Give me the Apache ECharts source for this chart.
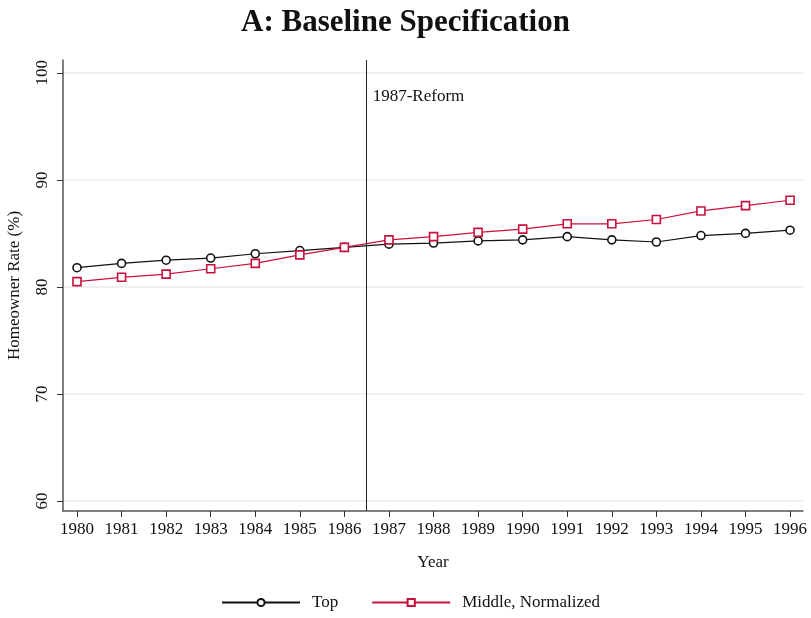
<!DOCTYPE html>
<html>
<head>
<meta charset="utf-8">
<script src="https://cdn.jsdelivr.net/npm/echarts@6/dist/echarts.min.js"></script>
<style>html,body{margin:0;padding:0;background:#fff}#c{width:811px;height:618px}</style>
</head>
<body>
<div id="c"></div>
<script>
const years = [1980,1981,1982,1983,1984,1985,1986,1987,1988,1989,1990,1991,1992,1993,1994,1995,1996];
const topRate = [81.8,82.2,82.5,82.7,83.1,83.4,83.7,84.0,84.1,84.3,84.4,84.7,84.4,84.2,84.8,85.0,85.3];
const middleNormalized = [80.5,80.9,81.2,81.7,82.2,83.0,83.7,84.4,84.7,85.1,85.4,85.9,85.9,86.3,87.1,87.6,88.1];
const yTicks = [60,70,80,90,100];
const reformYear = 1986.5;
const reformLabel = '1987-Reform';

const FONT = 'Liberation Serif';
const chart = echarts.init(document.getElementById('c'), null, {renderer:'canvas'});
chart.setOption({
  animation:false,
  backgroundColor:'#fff',
  textStyle:{fontFamily:FONT},
  title:{text:'A: Baseline Specification',left:'center',top:2,
    textStyle:{fontFamily:FONT,fontSize:31,fontWeight:'bold',color:'#111'}},
  grid:{left:63,right:8,top:60,bottom:107,outerBoundsMode:'none',containLabel:false},
  legend:{bottom:2,left:216,itemWidth:78,itemHeight:9,itemGap:33,
    textStyle:{fontFamily:FONT,fontSize:17,color:'#111',padding:[0,0,0,7]},
    data:['Top','Middle, Normalized']},
  xAxis:{type:'value',min:1979.686,max:1996.29,
    name:'Year',nameLocation:'middle',nameGap:43,
    nameTextStyle:{fontFamily:FONT,fontSize:17,color:'#111'},
    axisLine:{show:true,lineStyle:{color:'#555',width:1.5}},
    axisTick:{show:true,length:6,customValues:years,lineStyle:{color:'#333'}},
    axisLabel:{customValues:years,margin:10,fontFamily:FONT,fontSize:17,color:'#111',formatter:v=>String(v)},
    splitLine:{show:false}},
  yAxis:{type:'value',min:59.07,max:101.2,
    name:'Homeowner Rate (%)',nameLocation:'middle',nameGap:40,
    nameTextStyle:{fontFamily:FONT,fontSize:17,color:'#111'},
    axisLine:{show:true,lineStyle:{color:'#555',width:1.5}},
    axisTick:{show:true,length:6,customValues:yTicks,lineStyle:{color:'#333'}},
    axisLabel:{customValues:yTicks,rotate:90,margin:12,fontFamily:FONT,fontSize:17,color:'#111'},
    splitLine:{show:true,lineStyle:{color:'#ebebeb',width:1.5}}},
  series:[
    {name:'Top',type:'line',data:years.map((y,i)=>[y,topRate[i]]),
      symbol:'circle',symbolSize:8,
      itemStyle:{color:'#fff',borderColor:'#111',borderWidth:1.6},
      lineStyle:{color:'#111',width:1.2},
      markLine:{silent:true,symbol:'none',label:{show:false},
        lineStyle:{color:'#222',type:'solid',width:1},
        data:[{xAxis:reformYear}]},
      markPoint:{symbol:'circle',symbolSize:0,
        label:{show:true,position:'right',distance:6,formatter:reformLabel,fontFamily:FONT,fontSize:17,color:'#111'},
        data:[{coord:[reformYear,97.76]}]}
    },
    {name:'Middle, Normalized',type:'line',data:years.map((y,i)=>[y,middleNormalized[i]]),
      symbol:'rect',symbolSize:8,
      itemStyle:{color:'#fff',borderColor:'#c8103c',borderWidth:1.6},
      lineStyle:{color:'#c8103c',width:1.2}}
  ]
});
</script>
</body>
</html>
